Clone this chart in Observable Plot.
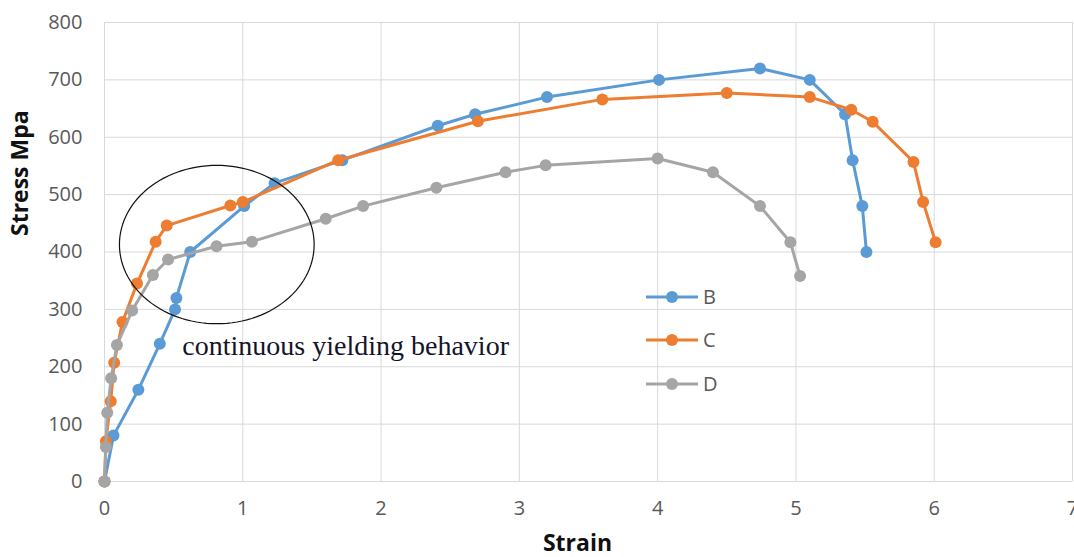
<!DOCTYPE html>
<html>
<head>
<meta charset="utf-8">
<script src="https://cdn.jsdelivr.net/npm/d3@7"></script>
<script src="https://cdn.jsdelivr.net/npm/@observablehq/plot@0.6"></script>
<style>
  html, body { margin: 0; padding: 0; background: #fff; }
  #wrap { position: relative; width: 1074px; height: 557px; }
  #legend { position: absolute; left: 0; top: 0; pointer-events: none; }
</style>
</head>
<body>
<div id="wrap"></div>
<script>
// ---- data ----
const seriesNames = ["B", "C", "D"];
const seriesColors = ["#5B9BD5", "#ED7D31", "#A5A5A5"];

const strainB = [0, 0.065, 0.245, 0.40, 0.51, 0.52, 0.62, 1.01, 1.23, 1.72, 2.41, 2.68, 3.20, 4.01, 4.74, 5.10, 5.355, 5.41, 5.48, 5.51];
const stressB = [0, 80, 160, 240, 300, 320, 400, 480, 520, 560, 620, 640, 670, 700, 720, 700, 640, 560, 480, 400];

const strainC = [0, 0.01, 0.045, 0.07, 0.13, 0.235, 0.37, 0.45, 0.91, 1.0, 1.69, 2.70, 3.60, 4.50, 5.10, 5.40, 5.555, 5.85, 5.92, 6.01];
const stressC = [0, 70, 140, 207, 278, 345, 418, 446, 481, 487, 560, 628, 666, 677, 670, 648, 627, 557, 487, 417];

const strainD = [0, 0.01, 0.02, 0.048, 0.09, 0.20, 0.35, 0.46, 0.81, 1.066, 1.60, 1.87, 2.40, 2.90, 3.19, 4.0, 4.40, 4.74, 4.96, 5.03];
const stressD = [0, 60, 120, 180, 238, 298, 360, 387, 410, 418, 458, 480, 512, 539, 551, 563, 539, 480, 417, 358];

const xTicks = [0, 1, 2, 3, 4, 5, 6, 7];
const yTicks = [0, 100, 200, 300, 400, 500, 600, 700, 800];

// annotation: ellipse (center strain, center stress, radius strain, radius stress) and label
const ellipseSpec = [0.812, 413, 0.704, 138];
const annotationText = ["continuous yielding behavior"];
const annotationPos = [0.563, 220];

const xLabel = "Strain";
const yLabel = "Stress Mpa";

// ---- build tables ----
const strains = [strainB, strainC, strainD];
const stresses = [stressB, stressC, stressD];
const tables = seriesNames.map((name, k) =>
  strains[k].map((x, i) => ({series: name, strain: x, stress: stresses[k][i]}))
);

const [ecx, ecy, erx, ery] = ellipseSpec;
const ellipsePts = d3.range(0, 361, 3).map(a => {
  const t = a * Math.PI / 180;
  return {x: ecx + erx * Math.cos(t), y: ecy + ery * Math.sin(t)};
});

const tickFont = "'Open Sans', 'Liberation Sans', sans-serif";

const marks = [
  Plot.gridX(xTicks, {stroke: "#d9d9d9", strokeOpacity: 1, strokeWidth: 1}),
  Plot.gridY(yTicks, {stroke: "#d9d9d9", strokeOpacity: 1, strokeWidth: 1}),
  Plot.axisX(xTicks, {tickSize: 0, tickPadding: 19, fontSize: 20, fill: "#595959", fontFamily: tickFont, label: null, tickFormat: d => String(d)}),
  Plot.axisY(yTicks, {tickSize: 0, tickPadding: 22, fontSize: 20, fill: "#595959", fontFamily: tickFont, label: null, tickFormat: d => String(d)}),
];

tables.forEach((tbl, k) => {
  marks.push(Plot.line(tbl, {x: "strain", y: "stress", stroke: seriesColors[k], strokeWidth: 3, curve: "linear"}));
  marks.push(Plot.dot(tbl, {x: "strain", y: "stress", r: 6, fill: seriesColors[k], stroke: "none"}));
});

marks.push(Plot.line(ellipsePts, {x: "x", y: "y", stroke: "#111", strokeWidth: 1.2, curve: "linear"}));
marks.push(Plot.text(annotationText, {
  x: annotationPos[0], y: annotationPos[1], text: d => d, textAnchor: "start", lineAnchor: "bottom",
  fontSize: 28, fontFamily: "'Liberation Serif', 'DejaVu Serif', serif", fill: "#141428"
}));
marks.push(Plot.text([xLabel], {
  frameAnchor: "bottom", dx: -11, dy: 62, text: d => d, fontSize: 23, fontWeight: "bold",
  fontFamily: tickFont, fill: "#111", lineAnchor: "middle"
}));
marks.push(Plot.text([yLabel], {
  frameAnchor: "left", dx: -84, dy: -16, rotate: -90, text: d => d, fontSize: 23, fontWeight: "bold",
  fontFamily: tickFont, fill: "#111", lineAnchor: "middle"
}));

const chart = Plot.plot({
  width: 1074,
  height: 557,
  marginLeft: 104,
  marginRight: 2,
  marginTop: 22,
  marginBottom: 76,
  x: {domain: [0, 7]},
  y: {domain: [0, 800]},
  style: {background: "#fff", overflow: "visible"},
  marks
});
document.getElementById("wrap").appendChild(chart);

// ---- legend overlay ----
const legend = d3.select("#wrap").append("svg")
  .attr("id", "legend").attr("width", 1074).attr("height", 557);
const legendRowsY = [297, 340, 384];
seriesNames.forEach((name, k) => {
  const g = legend.append("g").attr("transform", `translate(646, ${legendRowsY[k]})`);
  g.append("line").attr("x1", 0).attr("x2", 52).attr("y1", 0).attr("y2", 0)
    .attr("stroke", seriesColors[k]).attr("stroke-width", 3);
  g.append("circle").attr("cx", 26).attr("cy", 0).attr("r", 6).attr("fill", seriesColors[k]);
  g.append("text").attr("x", 57).attr("y", 0).attr("dy", "0.35em")
    .attr("font-family", tickFont).attr("font-size", 20).attr("fill", "#595959").text(name);
});
</script>
</body>
</html>
